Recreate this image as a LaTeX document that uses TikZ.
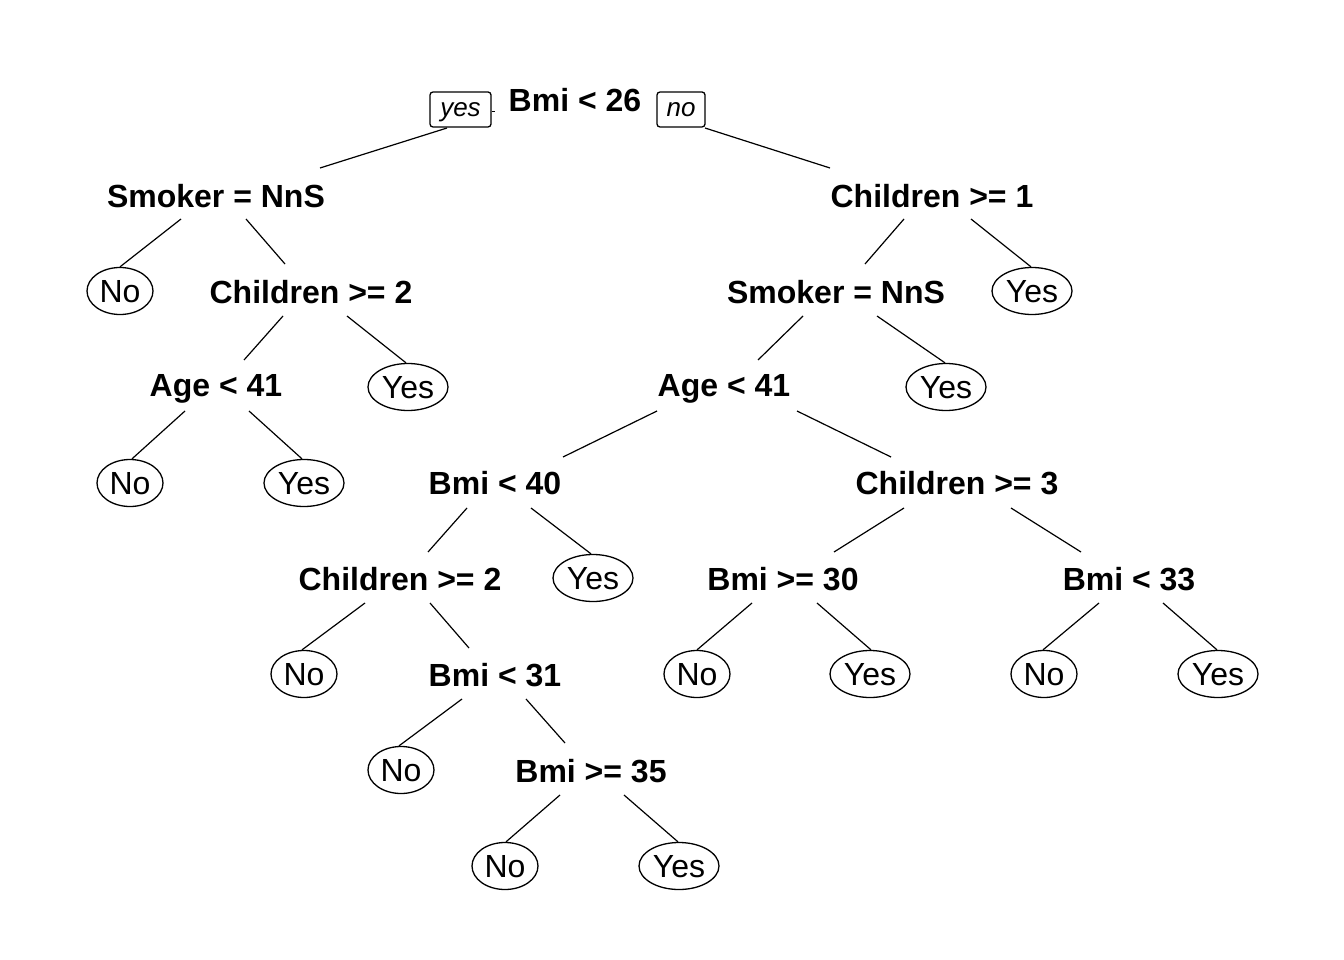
\documentclass[tikz,border=0pt]{standalone}
\usepackage{fontspec}
\setmainfont{Liberation Sans}
\usetikzlibrary{shapes.geometric,calc}
\tikzset{
  split/.style={font=\fontsize{32}{32}\selectfont\bfseries, inner xsep=0pt, inner ysep=12pt, text height=22.5pt, text depth=0pt},
  leaf/.style={ellipse, draw, line width=1.3pt, font=\fontsize{32}{32}\selectfont, inner sep=0pt, text height=22.5pt, text depth=0pt, minimum height=47pt},
  leafno/.style={leaf, minimum width=66pt},
  leafyes/.style={leaf, minimum width=80pt},
  yn/.style={draw, rounded corners=3pt, line width=1.3pt, font=\fontsize{26}{26}\selectfont\itshape, inner sep=0pt, text height=18pt, text depth=4pt, minimum height=35pt},
  edge/.style={line width=1.2pt}
}
\newcommand{\edgeline}[6]{\draw[edge] ($(#1)+(#2,#3)$) -- ($(#4)+(#5,#6)$);}
\begin{document}
\begin{tikzpicture}[x=1pt,y=-1pt]
\useasboundingbox (0,0) rectangle (1344,960);
% split nodes
\node[split] (root) at (575,100) {Bmi < 26};
\node[yn, minimum width=61pt] (yesb) at (460.5,109.5) {yes};
\node[yn, minimum width=48pt] (nob) at (681,109.5) {no};
\node[split] (smk1) at (216,196) {Smoker = NnS};
\node[split] (chd2) at (311,292) {Children >= 2};
\node[split] (age1) at (216,385) {Age < 41};
\node[split] (chd1) at (932,196) {Children >= 1};
\node[split] (smk2) at (836,292) {Smoker = NnS};
\node[split] (age2) at (724,385) {Age < 41};
\node[split] (bmi40) at (495,483) {Bmi < 40};
\node[split] (chd3) at (957,483) {Children >= 3};
\node[split] (chd4) at (400,579) {Children >= 2};
\node[split] (bmi31) at (495,675) {Bmi < 31};
\node[split] (bmi35) at (591,771) {Bmi >= 35};
\node[split] (bmi30) at (783,579) {Bmi >= 30};
\node[split] (bmi33) at (1129,579) {Bmi < 33};
% leaves
\node[leafno] (no1) at (120,291) {No};
\node[leafyes] (yes1) at (408,387) {Yes};
\node[leafno] (no2) at (130,483) {No};
\node[leafyes] (yes2) at (304,483) {Yes};
\node[leafyes] (yes3) at (1032,291) {Yes};
\node[leafyes] (yes4) at (946,387) {Yes};
\node[leafyes] (yes5) at (593,578) {Yes};
\node[leafno] (no3) at (304,674) {No};
\node[leafno] (no4) at (401,770) {No};
\node[leafno] (no5) at (505,866) {No};
\node[leafyes] (yes6) at (679,866) {Yes};
\node[leafno] (no6) at (697,674) {No};
\node[leafyes] (yes7) at (870,674) {Yes};
\node[leafno] (no7) at (1044,674) {No};
\node[leafyes] (yes8) at (1218,674) {Yes};
% connectors
\coordinate (tick) at ($(yesb.east)+(3,2)$);
\draw[edge] ($(yesb.east)+(0,2)$) -- (tick);
\edgeline{yesb}{-13.5}{18.5}{smk1}{104}{-28}
\edgeline{nob}{24}{18.5}{chd1}{-102}{-28}
\edgeline{smk1}{-35}{23}{no1.north}{0}{0}
\edgeline{smk1}{30}{23}{chd2}{-26}{-28}
\edgeline{chd2}{-28}{24}{age1}{28}{-25}
\edgeline{chd2}{36}{24}{yes1.north}{-2}{0}
\edgeline{age1}{-31}{26}{no2.north}{2}{0}
\edgeline{age1}{33}{26}{yes2.north}{-2}{0}
\edgeline{chd1}{-28}{23}{smk2}{29}{-28}
\edgeline{chd1}{39}{23}{yes3.north}{-1}{0}
\edgeline{smk2}{-33}{24}{age2}{34}{-25}
\edgeline{smk2}{41}{24}{yes4.north}{-1}{0}
\edgeline{age2}{-67}{26}{bmi40}{68}{-26}
\edgeline{age2}{73}{26}{chd3}{-66}{-26}
\edgeline{bmi40}{-28}{25}{chd4}{28}{-27}
\edgeline{bmi40}{36}{25}{yes5.north}{-2}{0}
\edgeline{chd4}{-35}{24}{no3.north}{-2}{0}
\edgeline{chd4}{30}{24}{bmi31}{-26}{-27}
\edgeline{bmi31}{-33}{24}{no4.north}{-2}{0}
\edgeline{bmi31}{31}{24}{bmi35}{-26}{-28}
\edgeline{bmi35}{-31}{24}{no5.north}{1}{0}
\edgeline{bmi35}{33}{24}{yes6.north}{-1}{0}
\edgeline{chd3}{-53}{25}{bmi30}{51}{-27}
\edgeline{chd3}{54}{25}{bmi33}{-48}{-27}
\edgeline{bmi30}{-31}{24}{no6.north}{0}{0}
\edgeline{bmi30}{34}{24}{yes7.north}{1}{0}
\edgeline{bmi33}{-30}{24}{no7.north}{-1}{0}
\edgeline{bmi33}{34}{24}{yes8.north}{-1}{0}
\end{tikzpicture}
\end{document}
